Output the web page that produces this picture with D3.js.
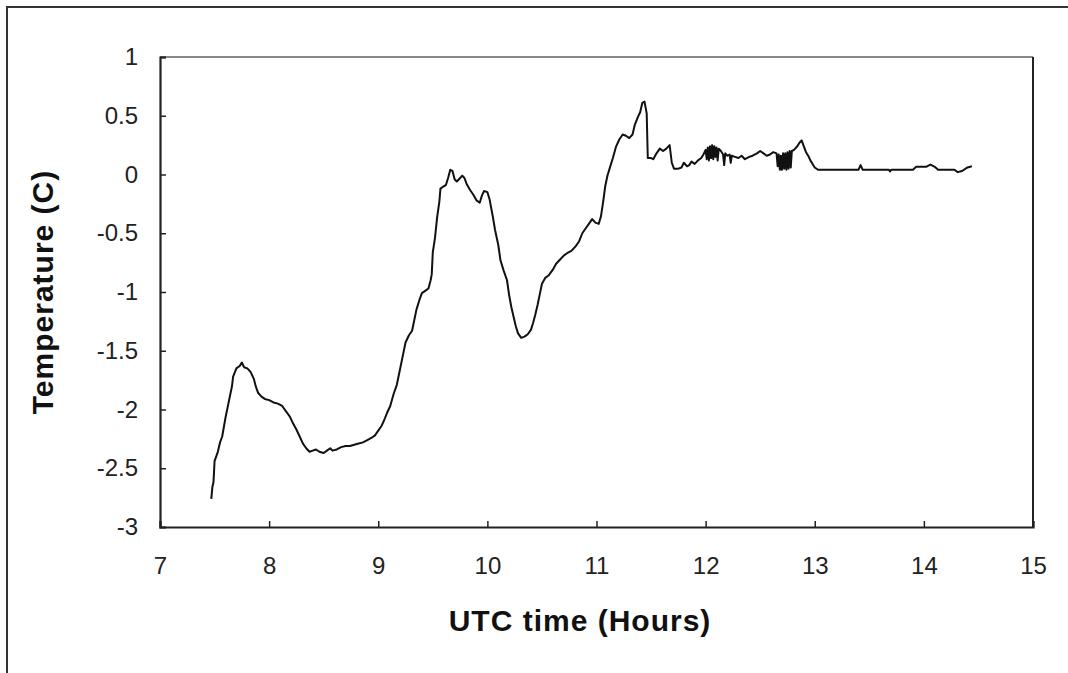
<!DOCTYPE html>
<html>
<head>
<meta charset="utf-8">
<script src="https://cdn.jsdelivr.net/npm/d3@7"></script>
<style>
  body { margin: 0; background: #fff; }
  svg { display: block; font-family: "Liberation Sans", Arial, sans-serif; }
</style>
</head>
<body>
<svg width="1068" height="673"></svg>
<script>
// UTC time (hours) and temperature (C)
const hours = [
  7.47, 7.48, 7.49, 7.50, 7.53, 7.55, 7.57, 7.60, 7.62, 7.64, 7.66, 7.67, 7.70, 7.73, 7.75, 7.77,
  7.80, 7.83, 7.86, 7.88, 7.90, 7.93, 7.96, 8.00, 8.04, 8.08, 8.12, 8.15, 8.19, 8.22, 8.25, 8.28,
  8.31, 8.34, 8.37, 8.40, 8.43, 8.46, 8.50, 8.53, 8.56, 8.58, 8.62, 8.66, 8.70, 8.74, 8.78, 8.82,
  8.86, 8.90, 8.94, 8.97, 9.00, 9.03, 9.05, 9.08, 9.11, 9.14, 9.17, 9.19, 9.21, 9.23, 9.25, 9.28,
  9.31, 9.33, 9.35, 9.38, 9.40, 9.43, 9.46, 9.48, 9.49, 9.50, 9.52, 9.54, 9.56, 9.57, 9.60, 9.62,
  9.64, 9.66, 9.68, 9.70, 9.72, 9.74, 9.77, 9.79, 9.81, 9.84, 9.87, 9.90, 9.93, 9.95, 9.97, 10.00,
  10.02, 10.05, 10.07, 10.10, 10.12, 10.15, 10.18, 10.20, 10.22, 10.24, 10.26, 10.28, 10.31, 10.34, 10.37, 10.40,
  10.42, 10.44, 10.46, 10.48, 10.50, 10.53, 10.56, 10.60, 10.63, 10.66, 10.70, 10.73, 10.77, 10.81, 10.84, 10.87,
  10.90, 10.93, 10.96, 10.99, 11.02, 11.04, 11.06, 11.08, 11.10, 11.12, 11.15, 11.18, 11.21, 11.24, 11.27, 11.30,
  11.33, 11.35, 11.38, 11.40, 11.42, 11.44, 11.46, 11.47, 11.50, 11.52, 11.55, 11.58, 11.61, 11.64, 11.67, 11.69,
  11.71, 11.75, 11.78, 11.80, 11.83, 11.85, 11.87, 11.90, 11.93, 11.96, 11.98, 12.00, 12.01, 12.02, 12.03, 12.04,
  12.05, 12.06, 12.07, 12.08, 12.09, 12.10, 12.11, 12.12, 12.14, 12.16, 12.17, 12.18, 12.20, 12.22, 12.23, 12.24,
  12.27, 12.30, 12.33, 12.36, 12.40, 12.43, 12.47, 12.50, 12.53, 12.56, 12.59, 12.62, 12.65, 12.66, 12.67, 12.68,
  12.69, 12.70, 12.71, 12.72, 12.73, 12.74, 12.75, 12.76, 12.77, 12.78, 12.79, 12.81, 12.84, 12.86, 12.88, 12.90,
  12.92, 12.94, 12.96, 12.98, 13.00, 13.03, 13.40, 13.42, 13.44, 13.68, 13.69, 13.70, 13.90, 13.93, 14.02, 14.06,
  14.10, 14.13, 14.28, 14.31, 14.35, 14.40, 14.44
];
const temps = [
  -2.76, -2.66, -2.62, -2.44, -2.36, -2.28, -2.23, -2.07, -1.98, -1.89, -1.80, -1.72, -1.65, -1.63, -1.60, -1.64,
  -1.65, -1.68, -1.74, -1.81, -1.86, -1.89, -1.91, -1.92, -1.94, -1.95, -1.97, -2.01, -2.06, -2.12, -2.17, -2.23,
  -2.29, -2.33, -2.36, -2.35, -2.34, -2.36, -2.37, -2.35, -2.33, -2.35, -2.34, -2.32, -2.31, -2.31, -2.30, -2.29,
  -2.28, -2.26, -2.24, -2.22, -2.18, -2.14, -2.10, -2.03, -1.97, -1.87, -1.79, -1.70, -1.61, -1.52, -1.43, -1.37,
  -1.33, -1.24, -1.15, -1.06, -1.01, -0.99, -0.97, -0.90, -0.85, -0.66, -0.54, -0.36, -0.23, -0.12, -0.10, -0.09,
  -0.03, 0.04, 0.03, -0.04, -0.06, -0.04, -0.01, -0.03, -0.08, -0.13, -0.17, -0.22, -0.24, -0.18, -0.14, -0.15,
  -0.21, -0.36, -0.47, -0.60, -0.73, -0.82, -0.90, -1.03, -1.13, -1.21, -1.29, -1.35, -1.39, -1.38, -1.36, -1.32,
  -1.26, -1.19, -1.11, -1.02, -0.93, -0.88, -0.86, -0.81, -0.76, -0.73, -0.69, -0.67, -0.65, -0.61, -0.57, -0.50,
  -0.46, -0.42, -0.38, -0.41, -0.42, -0.36, -0.24, -0.10, -0.01, 0.05, 0.14, 0.24, 0.30, 0.34, 0.33, 0.31,
  0.34, 0.42, 0.49, 0.53, 0.61, 0.62, 0.52, 0.14, 0.14, 0.13, 0.18, 0.22, 0.20, 0.22, 0.25, 0.10,
  0.05, 0.05, 0.06, 0.10, 0.07, 0.08, 0.11, 0.09, 0.12, 0.14, 0.17, 0.21, 0.13, 0.23, 0.12, 0.24,
  0.14, 0.25, 0.13, 0.24, 0.15, 0.23, 0.12, 0.22, 0.20, 0.17, 0.08, 0.18, 0.16, 0.17, 0.10, 0.16,
  0.15, 0.14, 0.16, 0.13, 0.15, 0.16, 0.18, 0.20, 0.18, 0.16, 0.17, 0.19, 0.18, 0.07, 0.17, 0.04,
  0.16, 0.04, 0.18, 0.05, 0.18, 0.04, 0.19, 0.05, 0.20, 0.06, 0.20, 0.21, 0.24, 0.27, 0.29, 0.24,
  0.19, 0.16, 0.12, 0.09, 0.06, 0.04, 0.04, 0.08, 0.04, 0.04, 0.025, 0.04, 0.04, 0.065, 0.065, 0.085,
  0.065, 0.04, 0.04, 0.02, 0.03, 0.06, 0.07
];
const xTicks = [7, 8, 9, 10, 11, 12, 13, 14, 15];
const yTicks = [1, 0.5, 0, -0.5, -1, -1.5, -2, -2.5, -3];
const xTitle = 'UTC time (Hours)';
const yTitle = 'Temperature (C)';

const svg = d3.select('svg');
const margin = { top: 57, right: 35, bottom: 146, left: 160 };
const innerWidth = 1068 - margin.left - margin.right;
const innerHeight = 673 - margin.top - margin.bottom;

// outer chart frame (top and left edges visible)
svg.append('path')
    .attr('d', 'M7,673V7H1068')
    .attr('fill', 'none')
    .attr('stroke', '#333')
    .attr('stroke-width', 2);

const xScale = d3.scaleLinear().domain([7, 15]).range([0, innerWidth]);
const yScale = d3.scaleLinear().domain([-3, 1]).range([innerHeight, 0]);

const g = svg.append('g')
    .attr('transform', `translate(${margin.left}, ${margin.top})`);

// plot area border: grey top, dark right
g.append('line')
    .attr('x1', 0).attr('x2', innerWidth).attr('y1', 0).attr('y2', 0)
    .attr('stroke', '#888').attr('stroke-width', 2);
g.append('line')
    .attr('x1', innerWidth).attr('x2', innerWidth).attr('y1', 0).attr('y2', innerHeight)
    .attr('stroke', '#222').attr('stroke-width', 2);

const xAxis = g.append('g')
    .attr('transform', `translate(0, ${innerHeight})`)
    .call(d3.axisBottom(xScale).tickValues(xTicks).tickSize(-6).tickPadding(30).tickFormat(d => String(d)));
const yAxis = g.append('g')
    .call(d3.axisLeft(yScale).tickValues(yTicks).tickSize(-6).tickPadding(22).tickFormat(d => String(d)));

[xAxis, yAxis].forEach(ax => {
    ax.select('.domain').attr('stroke', '#222').attr('stroke-width', 2.2);
    ax.selectAll('.tick line').attr('stroke', '#222').attr('stroke-width', 1.5);
    ax.selectAll('.tick text')
        .attr('fill', '#222')
        .style('font-family', '"Liberation Sans", Arial, sans-serif')
        .style('font-size', '24px');
});

const line = d3.line()
    .x((d, i) => xScale(hours[i]))
    .y(d => yScale(d));

g.append('path')
    .datum(temps)
    .attr('d', line)
    .attr('fill', 'none')
    .attr('stroke', '#111')
    .attr('stroke-width', 2)
    .attr('stroke-linejoin', 'round');

svg.append('text')
    .attr('x', 580)
    .attr('y', 631)
    .attr('text-anchor', 'middle')
    .style('font-size', '30px')
    .style('font-weight', 'bold')
    .style('letter-spacing', '1px')
    .attr('fill', '#111')
    .text(xTitle);

svg.append('text')
    .attr('transform', `translate(53, 292) rotate(-90)`)
    .attr('text-anchor', 'middle')
    .style('font-size', '30px')
    .style('font-weight', 'bold')
    .style('letter-spacing', '1px')
    .attr('fill', '#111')
    .text(yTitle);
</script>
</body>
</html>
